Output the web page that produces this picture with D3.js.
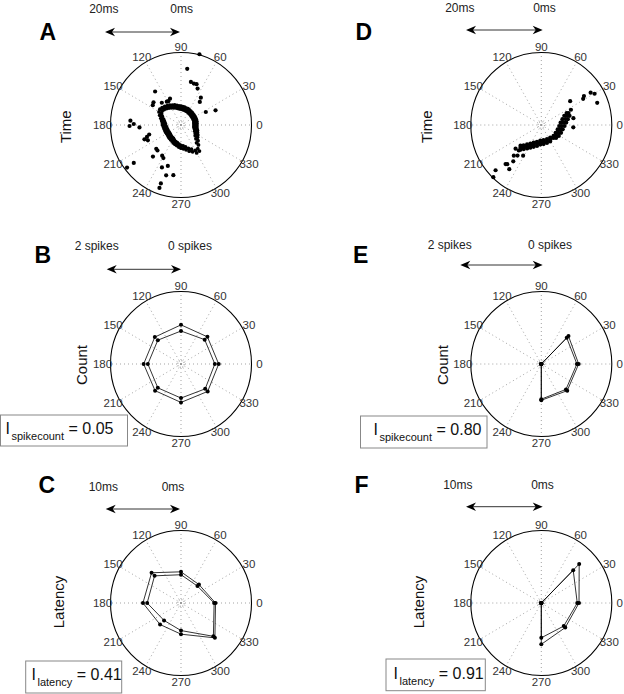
<!DOCTYPE html>
<html><head><meta charset="utf-8">
<script src="https://cdn.jsdelivr.net/npm/d3@7"></script>
<style>body{margin:0;background:#fff;} svg{display:block;font-family:Arial,"Liberation Sans",sans-serif;}</style>
</head><body><svg id="c" width="624" height="694"></svg>
<script>
// ---------- data ----------
const angleTicks = [0,30,60,90,120,150,180,210,240,270,300,330];
const polyAngles = [0,45,90,135,180,225,270,315];

// Panel A: spike times (ms) vs direction (deg) - dense loop
const ringAngleA = [0,6,12,18,24,30,36,42,48,54,60,66,72,78,84,90,96,102,108,114,120,126,132,138,144,150,156,162,168,174,180,186,192,198,204,210,216,222,228,234,240,246,252,258,264,270,276,282,288,294,300,306,312,318,324,330,336,342,348,354];
const ringInnerA = [3.7,3.7,3.8,3.8,3.8,3.8,3.8,3.8,3.9,3.9,4.0,4.1,4.1,4.2,4.3,4.4,4.5,4.7,5.0,5.2,5.5,5.8,6.1,6.4,6.6,6.4,5.8,5.2,4.8,4.5,4.4,4.2,4.1,4.0,4.0,3.9,3.9,4.0,4.1,4.2,4.3,4.6,4.8,5.0,5.3,5.6,5.8,6.2,6.8,7.3,8.1,8.1,6.6,5.7,5.0,4.7,4.3,4.1,3.8,3.7];
const ringOuterA = [4.5,4.5,4.6,4.6,4.6,4.6,4.6,4.6,4.7,4.7,4.8,4.9,4.9,5.0,5.1,5.2,5.3,5.5,5.8,6.0,6.3,6.6,6.9,7.2,7.4,7.2,6.6,6.0,5.6,5.3,5.2,5.0,4.9,4.8,4.8,4.7,4.7,4.8,4.9,5.0,5.1,5.4,5.6,5.8,6.1,6.4,6.6,7.0,7.6,8.1,8.9,8.9,7.4,6.5,5.8,5.5,5.1,4.9,4.6,4.5];
const extraThetaA = [75,83.5,76.7,72.3,68.6,64.9,53.2,50,27,22.4,128.5,141.2,145.7,131.6,113.2,118.6,122,175.2,178.8,181.1,183.2,196.2,198.8,200.9,204.2,223,226.5,227.6,237.7,241.3,217.5,218,245.2,251.7,253.1,261.1,250.5,250.6];
const extraRhoA   = [20.2,15.6,12.2,12.0,12.1,11.1,9.4,8.3,7.9,10.6,11.8,10.0,9.7,8.2,7.9,7.5,7.6,14.4,13.4,14.6,11.8,9.4,10.2,11.1,10.3,9.6,9.7,11.8,10.0,10.4,19.3,17.0,12.9,11.9,14.5,14.0,17.1,18.4];

// Panel D: spike times (ms) vs direction (deg)
const thetaD = [224.0,226.7,229.2,228.1,230.8,233.2,233.0,235.7,238.1,239.0,241.5,243.7,246.0,248.3,250.1,255.2,256.8,258.0,266.3,266.7,267.0,278.9,277.8,277.0,292.6,290.0,287.9,306.2,302.2,298.9,307.1,314.1,319.7,319.0,324.5,328.8,332.2,336.0,338.9,345.2,347.2,348.8,356.8,357.2,357.6,6.7,5.9,5.3,15.0,13.4,12.1,21.4,19.3,17.6,24.6,23.2,
  38.8,26.6,11.7,355.9,31.3,33.4,32.5,29.7,21.1,231.3,227.3,238.6,231.6,226.8,228.2,233.3,223.9,226.6,221.9,227.8];
const rhoD   = [8.2,8.6,9.0,7.5,7.9,8.3,6.7,7.2,7.6,6.0,6.5,7.0,5.3,5.9,6.4,4.8,5.3,5.9,4.3,4.9,5.4,4.2,4.8,5.3,4.2,4.7,5.2,4.3,4.8,5.2,4.5,5.0,5.5,4.6,5.2,5.8,4.6,5.3,6.0,4.8,5.5,6.2,5.1,5.8,6.6,5.5,6.3,7.1,6.2,7.0,7.7,7.0,7.7,8.4,7.9,8.4,
  10.5,9.4,9.3,9.1,13.9,14.5,16.6,17.4,17.0,10.8,11.5,9.9,12.8,14.8,14.5,15.2,18.0,19.8,9.8,9.5];

// Spike count (spikes) at 8 directions
const countInnerB = [0.96,0.95,0.91,0.93,0.94,0.93,0.94,0.97];
const countOuterB = [1.07,1.06,1.08,1.05,1.06,1.04,1.06,1.07];
const countInnerE = [1.01,1.02,0,0,0,0,0.97,0.99];
const countOuterE = [1.06,1.09,0,0,0,0,1.00,1.04];
// Latency (ms) at 8 directions
const latInnerC = [4.7,3.3,3.9,5.3,4.8,3.4,3.8,6.5];
const latOuterC = [4.9,3.6,4.3,5.9,5.4,4.2,4.3,6.8];
const latInnerF = [5.1,6.4,0,0,0,0,4.8,4.5];
const latOuterF = [5.35,7.6,0,0,0,0,5.7,4.8];

const indexLabels = {B:["spikecount","0.05"], E:["spikecount","0.80"], C:["latency","0.41"], F:["latency","0.91"]};
const unitLabels = {A:["20ms","0ms"], D:["20ms","0ms"], B:["2 spikes","0 spikes"], E:["2 spikes","0 spikes"], C:["10ms","0ms"], F:["10ms","0ms"]};
const axisNames = {A:"Time", D:"Time", B:"Count", E:"Count", C:"Latency", F:"Latency"};

// ---------- layout ----------
const RX = 70.5, RY = 72.5, LR = 78.5;
const svg = d3.select("#c");
const panels = [
  {id:"A", cx:181,   cy:125, rmax:20, letter:[39.5,39.5], units:[[103.8,12.7],[181.7,12.7]], arrow:[105,180,32],     axis:[70.7,126.7]},
  {id:"D", cx:541.3, cy:125, rmax:20, letter:[355.5,39.5], units:[[459.8,12],[544.5,12]],   arrow:[466,542.7,30],    axis:[432,126.7]},
  {id:"B", cx:181,   cy:364, rmax:2,  letter:[34.5,262.7], units:[[96.7,250],[190,250]],     arrow:[106.7,181,269.3], axis:[87.3,365], box:[0.5,415,127,31], txt:[5.5,433.5]},
  {id:"E", cx:541.3, cy:364, rmax:2,  letter:[353,263.3],  units:[[449.7,248.5],[550,248.5]], arrow:[460.3,542.7,265], axis:[448,365], box:[360.5,416,126.5,32], txt:[373.5,435]},
  {id:"C", cx:181,   cy:603, rmax:10, letter:[38.5,492.7], units:[[103.3,490.7],[173,490.7]], arrow:[105.7,180,509],  axis:[64,602], box:[25.7,661,96,32], txt:[31.5,680]},
  {id:"F", cx:541.3, cy:603, rmax:10, letter:[354.5,493.3], units:[[457.8,488.5],[542.5,488.5]], arrow:[466,542.7,506.7], axis:[424.4,602], box:[386,659,99.3,31.7], txt:[393.5,679.3]}
];

function polar(p){
  const sx = d3.scaleLinear().domain([0,p.rmax]).range([0,RX]);
  const sy = d3.scaleLinear().domain([0,p.rmax]).range([0,RY]);
  const rad = d3.scaleLinear().domain([0,360]).range([0,2*Math.PI]);
  return {
    x:(th,r)=>p.cx + sx(r)*Math.cos(rad(th)),
    y:(th,r)=>p.cy - sy(r)*Math.sin(rad(th))
  };
}

function arrowHead(g, x, y, dir){
  const L=10, Wd=4.2, back=3;
  const pts = [[x,y],[x-dir*L,y-Wd],[x-dir*(L-back),y],[x-dir*L,y+Wd]];
  g.append("path").attr("d","M"+pts.map(p=>p.join(",")).join("L")+"Z").attr("fill","#000");
}

panels.forEach(p=>{
  const g = svg.append("g");
  const P = polar(p);
  // grid rings (dotted)
  const ringFracs = [0.045];
  ringFracs.forEach(f=>{
    g.append("ellipse").attr("cx",p.cx).attr("cy",p.cy).attr("rx",RX*f).attr("ry",RY*f)
      .attr("fill","none").attr("stroke","#777").attr("stroke-width",0.8).attr("stroke-dasharray","1,1.5");
  });
  // spokes
  angleTicks.forEach(a=>{
    g.append("line").attr("x1",P.x(a,0)).attr("y1",P.y(a,0)).attr("x2",P.x(a,p.rmax)).attr("y2",P.y(a,p.rmax))
      .attr("stroke","#999").attr("stroke-width",0.9).attr("stroke-dasharray","1,3");
  });
  // outer circle
  g.append("ellipse").attr("cx",p.cx).attr("cy",p.cy).attr("rx",RX).attr("ry",RY)
    .attr("fill","none").attr("stroke","#000").attr("stroke-width",1.1);
  // tick labels
  angleTicks.forEach(a=>{
    const t = a*Math.PI/180;
    g.append("text").attr("x",p.cx+LR*Math.cos(t)).attr("y",p.cy-LR*Math.sin(t)).attr("dy","0.36em")
      .attr("text-anchor","middle").attr("font-size",11.5).attr("fill","#333").text(a);
  });
  // letter
  svg.append("text").attr("x",p.letter[0]).attr("y",p.letter[1]).attr("font-size",23).attr("font-weight","bold").attr("fill","#000").text(p.id);
  // unit labels
  unitLabels[p.id].forEach((s,i)=>{
    svg.append("text").attr("x",p.units[i][0]).attr("y",p.units[i][1]).attr("text-anchor","middle")
      .attr("font-size",12).attr("fill","#222").text(s);
  });
  // arrow
  const [ax1,ax2,ay] = p.arrow;
  svg.append("line").attr("x1",ax1+5).attr("x2",ax2-5).attr("y1",ay).attr("y2",ay).attr("stroke","#333").attr("stroke-width",1);
  arrowHead(svg, ax1, ay, -1);
  arrowHead(svg, ax2, ay, 1);
  // axis label
  svg.append("text").attr("transform",`translate(${p.axis[0]},${p.axis[1]}) rotate(-90)`).attr("text-anchor","middle")
    .attr("font-size",15).attr("fill","#111").text(axisNames[p.id]);
  // index box
  if(p.box){
    svg.append("rect").attr("x",p.box[0]).attr("y",p.box[1]).attr("width",p.box[2]).attr("height",p.box[3])
      .attr("fill","#fff").attr("stroke","#888").attr("stroke-width",1);
    const t = svg.append("text").attr("x",p.txt[0]).attr("y",p.txt[1]).attr("fill","#111");
    t.append("tspan").attr("font-size",16).text("I");
    t.append("tspan").attr("font-size",11).attr("dy",6).attr("dx",1.5).text(indexLabels[p.id][0]);
    t.append("tspan").attr("font-size",16).attr("dy",-6).text(" = "+indexLabels[p.id][1]);
  }
  p.g = g; p.P = P;
});

function dots(p, th, rh, r){
  p.g.selectAll(null).data(th.map((t,i)=>[t,rh[i]])).enter().append("circle")
    .attr("cx",d=>p.P.x(d[0],d[1])).attr("cy",d=>p.P.y(d[0],d[1])).attr("r",r).attr("fill","#000");
}
function poly(p, vals){
  const pts = polyAngles.map((a,i)=>[a,vals[i]]);
  const line = d3.line().x(d=>p.P.x(d[0],d[1])).y(d=>p.P.y(d[0],d[1])).curve(d3.curveLinearClosed);
  p.g.append("path").attr("d",line(pts)).attr("fill","none").attr("stroke","#000").attr("stroke-width",0.8);
  dots(p, polyAngles, vals, 2);
}

const byId = Object.fromEntries(panels.map(p=>[p.id,p]));
dots(byId.A, ringAngleA, ringInnerA, 1.9);
dots(byId.A, ringAngleA, ringOuterA, 1.9);
dots(byId.A, extraThetaA, extraRhoA, 2.1);
dots(byId.D, thetaD, rhoD, 2.1);
poly(byId.B, countInnerB); poly(byId.B, countOuterB);
poly(byId.E, countInnerE); poly(byId.E, countOuterE);
poly(byId.C, latInnerC);   poly(byId.C, latOuterC);
poly(byId.F, latInnerF);   poly(byId.F, latOuterF);
</script></body></html>
